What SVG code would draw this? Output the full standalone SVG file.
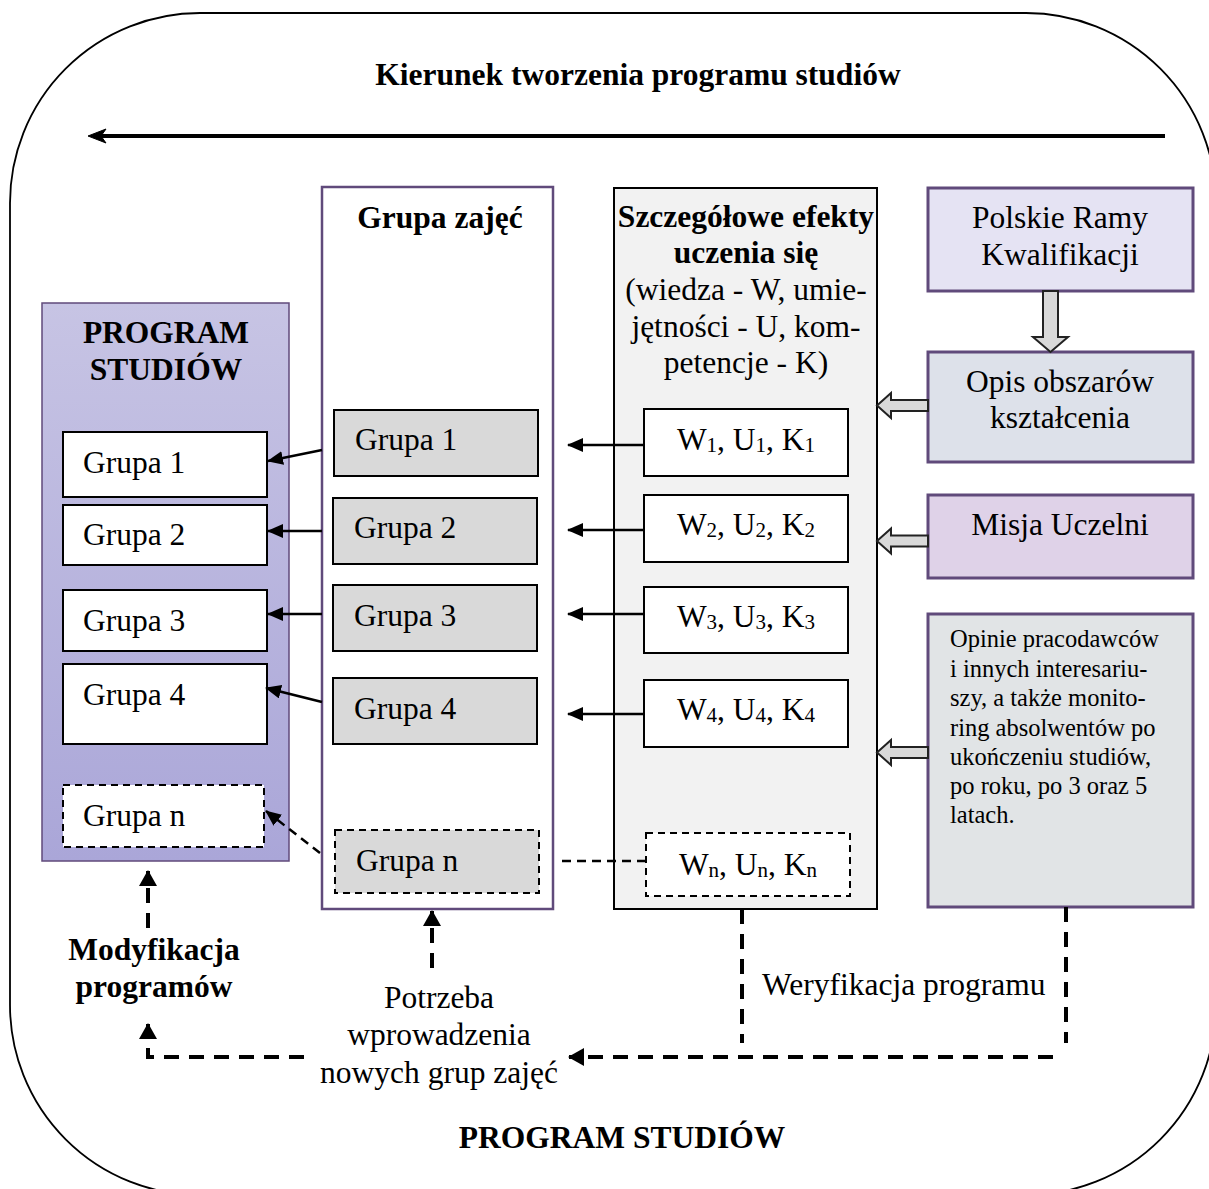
<svg xmlns="http://www.w3.org/2000/svg" width="1209" height="1189" viewBox="0 0 1209 1189">
<style>
text{font-family:"Liberation Serif","Times New Roman",serif;fill:#000}
.t{font-size:31.5px}
.b{font-size:31.5px;font-weight:bold}
.s{font-size:24.5px}
.c{text-anchor:middle}
.sub{font-size:21px}
.wbox{fill:#fff;stroke:#000;stroke-width:2}
.gbox{fill:#d9d9d9;stroke:#000;stroke-width:2}
.dash{stroke-dasharray:7 5}
.thin{stroke:#000;stroke-width:2.5;fill:none}
.thick{stroke:#000;stroke-width:4;fill:none;stroke-dasharray:15 10}
.blk{fill:#d9d9d9;stroke:#222;stroke-width:2}
.pur{stroke:#604a7b;stroke-width:3}
</style>
<defs>
<linearGradient id="lav" x1="0" y1="0" x2="0" y2="1">
<stop offset="0" stop-color="#c7c4e4"/>
<stop offset="1" stop-color="#aaa6d8"/>
</linearGradient>
<marker id="arr" viewBox="0 0 16 14" refX="15" refY="7" markerWidth="16" markerHeight="14" markerUnits="userSpaceOnUse" orient="auto">
<path d="M0,0 L16,7 L0,14 Z" fill="#000"/>
</marker>
<marker id="arrT" viewBox="0 0 16 18" refX="15" refY="9" markerWidth="16" markerHeight="18" markerUnits="userSpaceOnUse" orient="auto">
<path d="M0,0 L16,9 L0,18 Z" fill="#000"/>
</marker>
</defs>

<rect id="outer" x="10" y="13" width="1206" height="1182" rx="190" ry="190" fill="#fff" stroke="#000" stroke-width="1.8"/>

<g id="title">
<text class="b c" x="638" y="85">Kierunek tworzenia programu studiów</text>
<line x1="1165" y1="136" x2="100" y2="136" stroke="#000" stroke-width="4"/>
<path d="M88,136 L106,129 L101,136 L106,143 Z" fill="#000" stroke="#000" stroke-width="1"/>
</g>

<g id="program">
<rect x="42" y="303" width="247" height="558" fill="url(#lav)" stroke="#604a7b" stroke-width="1.5"/>
<text class="b c" x="166" y="343">PROGRAM</text>
<text class="b c" x="166" y="380">STUDIÓW</text>
</g>
<g id="p1"><rect class="wbox" x="63" y="432" width="204" height="65"/><text class="t" x="83" y="473">Grupa 1</text></g>
<g id="p2"><rect class="wbox" x="63" y="505" width="204" height="60"/><text class="t" x="83" y="545">Grupa 2</text></g>
<g id="p3"><rect class="wbox" x="63" y="590" width="204" height="61"/><text class="t" x="83" y="631">Grupa 3</text></g>
<g id="p4"><rect class="wbox" x="63" y="664" width="204" height="80"/><text class="t" x="83" y="705">Grupa 4</text></g>
<g id="pn"><rect class="wbox dash" x="63" y="785" width="201" height="62"/><text class="t" x="83" y="826">Grupa n</text></g>

<g id="grupy">
<rect x="322" y="187" width="231" height="722" fill="#fff" stroke="#604a7b" stroke-width="2.5"/>
<text class="b c" x="440" y="228">Grupa zajęć</text>
</g>
<g id="g1"><rect class="gbox" x="334" y="410" width="204" height="66"/><text class="t" x="355" y="450">Grupa 1</text></g>
<g id="g2"><rect class="gbox" x="333" y="498" width="204" height="66"/><text class="t" x="354" y="538">Grupa 2</text></g>
<g id="g3"><rect class="gbox" x="333" y="585" width="204" height="66"/><text class="t" x="354" y="626">Grupa 3</text></g>
<g id="g4"><rect class="gbox" x="333" y="678" width="204" height="66"/><text class="t" x="354" y="719">Grupa 4</text></g>
<g id="gn"><rect class="gbox dash" x="335" y="830" width="204" height="63"/><text class="t" x="356" y="871">Grupa n</text></g>

<g id="efekty">
<rect x="614" y="188" width="263" height="721" fill="#f2f2f2" stroke="#000" stroke-width="2"/>
<text class="b c" x="746" y="227">Szczegółowe efekty</text>
<text class="b c" x="746" y="263">uczenia się</text>
<text class="t c" x="746" y="300">(wiedza - W, umie-</text>
<text class="t c" x="746" y="337">jętności - U, kom-</text>
<text class="t c" x="746" y="373">petencje - K)</text>
</g>
<g id="w1"><rect class="wbox" x="644" y="409" width="204" height="67"/><text class="t c" x="746" y="450">W<tspan class="sub" dy="2">1</tspan><tspan dy="-2">, U</tspan><tspan class="sub" dy="2">1</tspan><tspan dy="-2">, K</tspan><tspan class="sub" dy="2">1</tspan></text></g>
<g id="w2"><rect class="wbox" x="644" y="495" width="204" height="67"/><text class="t c" x="746" y="535">W<tspan class="sub" dy="2">2</tspan><tspan dy="-2">, U</tspan><tspan class="sub" dy="2">2</tspan><tspan dy="-2">, K</tspan><tspan class="sub" dy="2">2</tspan></text></g>
<g id="w3"><rect class="wbox" x="644" y="587" width="204" height="66"/><text class="t c" x="746" y="627">W<tspan class="sub" dy="2">3</tspan><tspan dy="-2">, U</tspan><tspan class="sub" dy="2">3</tspan><tspan dy="-2">, K</tspan><tspan class="sub" dy="2">3</tspan></text></g>
<g id="w4"><rect class="wbox" x="644" y="680" width="204" height="67"/><text class="t c" x="746" y="720">W<tspan class="sub" dy="2">4</tspan><tspan dy="-2">, U</tspan><tspan class="sub" dy="2">4</tspan><tspan dy="-2">, K</tspan><tspan class="sub" dy="2">4</tspan></text></g>
<g id="wn"><rect class="wbox dash" x="646" y="833" width="204" height="63"/><text class="t c" x="748" y="875">W<tspan class="sub" dy="2">n</tspan><tspan dy="-2">, U</tspan><tspan class="sub" dy="2">n</tspan><tspan dy="-2">, K</tspan><tspan class="sub" dy="2">n</tspan></text></g>

<g id="prk"><rect class="pur" x="928" y="188" width="265" height="103" fill="#e5e3f3"/><text class="t c" x="1060" y="228">Polskie Ramy</text><text class="t c" x="1060" y="265">Kwalifikacji</text></g>
<g id="opis"><rect class="pur" x="928" y="352" width="265" height="110" fill="#dde1ea"/><text class="t c" x="1060" y="392">Opis obszarów</text><text class="t c" x="1060" y="428">kształcenia</text></g>
<g id="misja"><rect class="pur" x="928" y="495" width="265" height="83" fill="#dfd2e8"/><text class="t c" x="1060" y="535">Misja Uczelni</text></g>
<g id="opinie"><rect class="pur" x="928" y="614" width="265" height="293" fill="#e1e4e6"/>
<text class="s" x="950" y="647">Opinie pracodawców</text>
<text class="s" x="950" y="677">i innych interesariu-</text>
<text class="s" x="950" y="706">szy, a także monito-</text>
<text class="s" x="950" y="736">ring absolwentów po</text>
<text class="s" x="950" y="765">ukończeniu studiów,</text>
<text class="s" x="950" y="794">po roku, po 3 oraz 5</text>
<text class="s" x="950" y="823">latach.</text>
</g>

<g id="labels">
<text class="b c" x="154" y="960">Modyfikacja</text>
<text class="b c" x="154" y="997">programów</text>
<text class="t c" x="439" y="1008">Potrzeba</text>
<text class="t c" x="439" y="1045">wprowadzenia</text>
<text class="t c" x="439" y="1083">nowych grup zajęć</text>
<text class="t" x="762" y="995">Weryfikacja programu</text>
<text class="b c" x="622" y="1148">PROGRAM STUDIÓW</text>
</g>

<g id="connectors">
<polygon class="blk" points="1043,291 1058,291 1058,337 1068,337 1050.5,352 1033,337 1043,337"/>
<polygon class="blk" points="928,400 891,400 891,393 877,405.5 891,418 891,411 928,411"/>
<polygon class="blk" points="928,535.5 891,535.5 891,528.5 877,541 891,553.5 891,546.5 928,546.5"/>
<polygon class="blk" points="928,747 891,747 891,740 877,752.5 891,765 891,758 928,758"/>

<line class="thin" x1="322" y1="450" x2="268" y2="461" marker-end="url(#arr)"/>
<line class="thin" x1="322" y1="531" x2="268" y2="531" marker-end="url(#arr)"/>
<line class="thin" x1="322" y1="614" x2="268" y2="614" marker-end="url(#arr)"/>
<line class="thin" x1="322" y1="702" x2="266" y2="688" marker-end="url(#arr)"/>
<line class="thin" x1="320" y1="853" x2="266" y2="811" stroke-dasharray="9 6" marker-end="url(#arr)"/>

<line class="thin" x1="644" y1="445" x2="568" y2="445" marker-end="url(#arr)"/>
<line class="thin" x1="644" y1="530" x2="568" y2="530" marker-end="url(#arr)"/>
<line class="thin" x1="644" y1="614" x2="568" y2="614" marker-end="url(#arr)"/>
<line class="thin" x1="644" y1="714" x2="568" y2="714" marker-end="url(#arr)"/>
<line class="thin" x1="646" y1="861" x2="558" y2="861" stroke-dasharray="9 6"/>

<path class="thick" d="M742,909 V1043"/>
<path class="thick" d="M1066,907 V1043"/>
<path class="thick" d="M1053,1057 H569" marker-end="url(#arrT)"/>
<path class="thick" d="M304,1057 H148 V1024" marker-end="url(#arrT)"/>
<path class="thick" d="M148,928 V871" marker-end="url(#arrT)"/>
<path class="thick" d="M432,968 V911" marker-end="url(#arrT)"/>
</g>
</svg>
